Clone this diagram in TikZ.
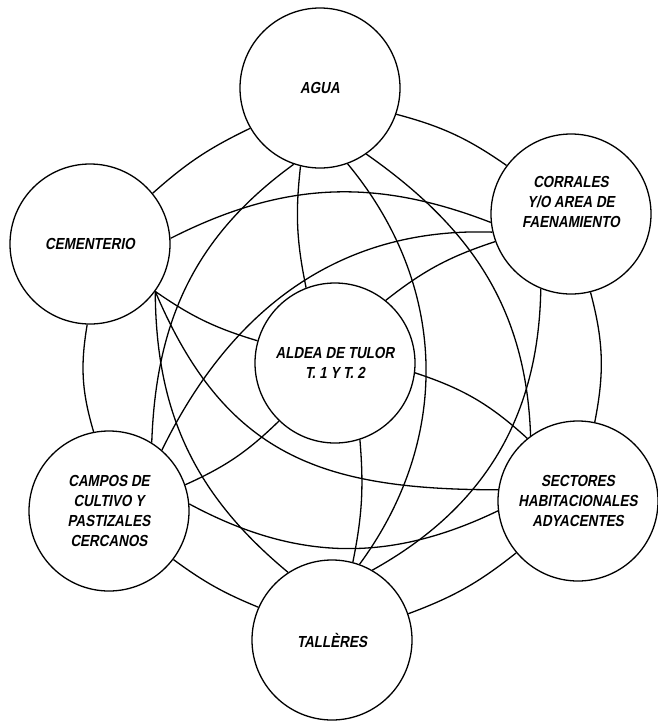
\documentclass[tikz,border=0pt]{standalone}
\usepackage{fontspec}
\setmainfont{Liberation Sans}
\newfontfamily\tlfont{Liberation Sans}[FakeSlant=0.18, FakeStretch=0.84]
\tikzset{
  tl site/.style={circle, draw, line width=1.3pt, minimum size=160pt, inner sep=0pt, align=center,
                  font=\tlfont\bfseries\fontsize{16}{20}\selectfont},
  tl link/.style={line width=1.3pt},
}

\begin{document}
\begin{tikzpicture}[x=1pt, y=-1pt]
  \path[fill=white, use as bounding box] (0,0) rectangle (657,721);
  % the six surrounding areas and the village
  \node[tl site] (agua) at (320,88) {AGUA};
  \node[tl site] (corr) at (571,214) {CORRALES\\Y/O AREA DE\\FAENAMIENTO\\[4pt]};
  \node[tl site] (sect) at (578,501) {SECTORES\\HABITACIONALES\\ADYACENTES};
  \node[tl site] (tall) at (332,640) {TALLÈRES};
  \node[tl site] (campos) at (109,511) {CAMPOS DE\\CULTIVO Y\\PASTIZALES\\CERCANOS};
  \node[tl site] (cem) at (90,244) {CEMENTERIO};
  \node[tl site] (aldea) at (335,363) {ALDEA DE TULOR\\T. 1 Y T. 2};
  % outer ring
  \draw[tl link] (agua.210) to[bend right=8] (cem.39);
  \draw[tl link] (agua.341) to[bend left=10] (corr.143);
  \draw[tl link] (cem.268) to[bend right=13] (campos.101);
  \draw[tl link] (campos.323) to[bend right=7] (tall.156);
  \draw[tl link] (sect.220) to[bend left=9] (tall.19);
  \draw[tl link] (corr.284) to[bend left=13] (sect.78);
  % long arcs across the figure
  \draw[tl link] (cem.4) to[bend left=24] (corr.186);
  \draw[tl link] (agua.251) to[out=216, in=88] (campos.58);
  \draw[tl link] (corr.193) to[out=178, in=64] (campos.49);
  \draw[tl link] (agua.290) to[bend left=38] (tall.70);
  \draw[tl link] (agua.305) to[out=325, in=92] (sect.126);
  \draw[tl link] (corr.248) to[bend left=30] (tall.60);
  \draw[tl link] (cem.324) to[bend right=25] (tall.123);
  \draw[tl link] (cem.324) to[out=293, in=180, looseness=1.15] (sect.172);
  \draw[tl link] (campos.5) to[bend right=27] (sect.187);
  % links to the village
  \draw[tl link] (agua.256) to[bend right=9] (aldea.111);
  \draw[tl link] (corr.200) to[bend right=10] (aldea.51);
  \draw[tl link] (cem.324) to[bend right=9] (aldea.164);
  \draw[tl link] (campos.19) to[bend right=10] (aldea.226);
  \draw[tl link] (aldea.353) to[bend left=12] (sect.129);
  \draw[tl link] (aldea.288) to[bend left=8] (tall.75);
\end{tikzpicture}
\end{document}
